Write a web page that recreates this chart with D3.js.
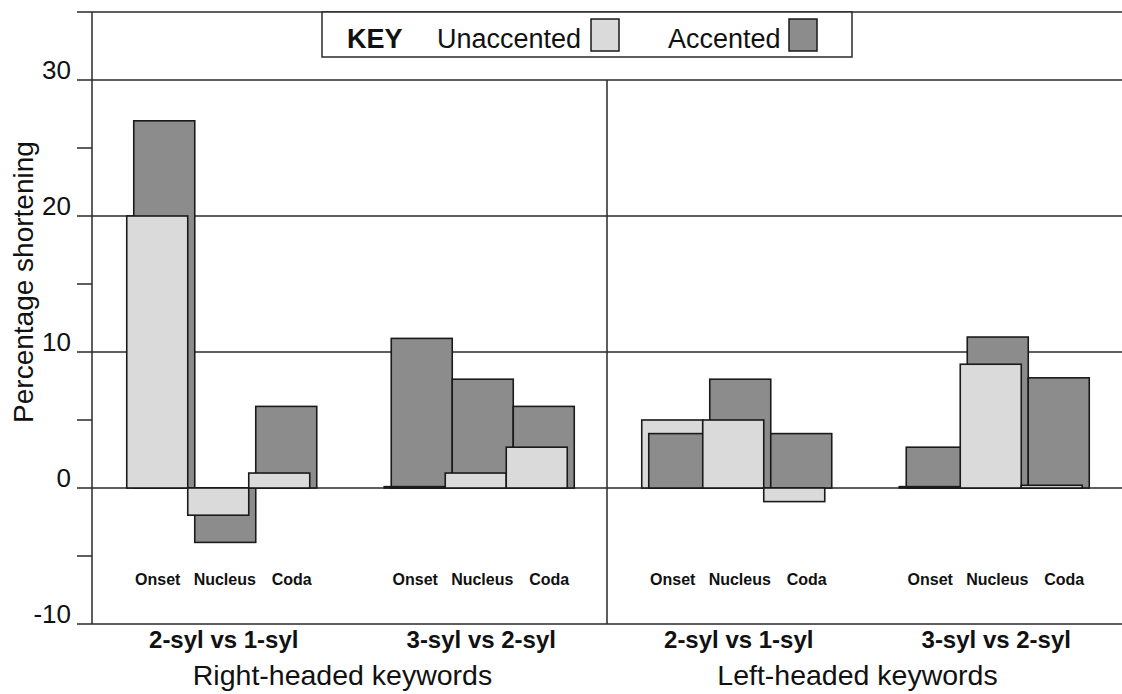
<!DOCTYPE html>
<html>
<head>
<meta charset="utf-8">
<style>
  body { margin: 0; background: #fff; }
  svg { display: block; font-family: "Liberation Sans", Arial, sans-serif; }
</style>
</head>
<body>
<svg id="chart" width="1122" height="694" viewBox="0 0 1122 694" xmlns="http://www.w3.org/2000/svg"></svg>
<script src="https://d3js.org/d3.v7.min.js"></script>
<script>

// comparison groups, left to right (two per panel)
const groups = ["2-syl vs 1-syl", "3-syl vs 2-syl", "2-syl vs 1-syl", "3-syl vs 2-syl"];
const panels = ["Right-headed keywords", "Left-headed keywords"];
const parts = ["Onset", "Nucleus", "Coda"];

// percentage shortening, one row per group, Onset / Nucleus / Coda
const unaccented = [
  [20, -2, 1.1],
  [0.1, 1.1, 3],
  [5, 5, -1],
  [0.1, 9.1, 0.2]
];
const accented = [
  [27, -4, 6],
  [11, 8, 6],
  [4, 8, 4],
  [3, 11.1, 8.1]
];

const majorTicks = [-10, 0, 10, 20, 30];
const minorTicks = [-5, 5, 15, 25];

const width = 1122, height = 694;
const left = 92, right = 1122, tickLeft = 77;
const lightFill = "#dadada", darkFill = "#8c8c8c";
const shift = 7; // accented bar sits a little to the right

const svg = d3.select("#chart");

const y = d3.scaleLinear().domain([-10, 35]).range([624, 12]);
const x0 = d3.scaleBand().domain(d3.range(groups.length)).range([left, right]);
const x1 = d3.scaleBand().domain(parts).range([0, 183]);
const clusterW = x1.range()[1] + shift;
const clusterLeft = g => x0(g) + (x0.bandwidth() - clusterW) / 2 + 1;
// part labels are spread a bit wider than the bars
const xLabel = d3.scalePoint().domain(parts).range([-67, 67]);

// grid lines with ticks poking out to the left
majorTicks.concat([35]).forEach(v => {
  svg.append("line")
    .attr("x1", tickLeft).attr("x2", right)
    .attr("y1", y(v)).attr("y2", y(v))
    .attr("stroke", "#2a2a2a")
    .attr("stroke-width", 1.5);
});
minorTicks.forEach(v => {
  svg.append("line")
    .attr("x1", tickLeft).attr("x2", left)
    .attr("y1", y(v)).attr("y2", y(v))
    .attr("stroke", "#2a2a2a")
    .attr("stroke-width", 1.5);
});

// tick labels
majorTicks.forEach(v => {
  svg.append("text")
    .attr("x", 71)
    .attr("y", y(v) - 1)
    .attr("text-anchor", "end")
    .attr("font-size", "26px")
    .attr("fill", "#111")
    .text(v);
});

// left axis
svg.append("line")
  .attr("x1", left).attr("x2", left)
  .attr("y1", y(35)).attr("y2", y(-10))
  .attr("stroke", "#2a2a2a")
  .attr("stroke-width", 1.5);

// panel divider
const midX = x0(2);
svg.append("line")
  .attr("x1", midX).attr("x2", midX)
  .attr("y1", y(30)).attr("y2", y(-10))
  .attr("stroke", "#2a2a2a")
  .attr("stroke-width", 1.5);

// bars: for each cell the taller bar goes behind the shorter one
const bars = [];
groups.forEach((g, gi) => {
  parts.forEach((p, pi) => {
    const pair = [
      { g: gi, part: p, value: unaccented[gi][pi], dx: 0, fill: lightFill },
      { g: gi, part: p, value: accented[gi][pi], dx: shift, fill: darkFill }
    ];
    pair.sort((a, b) => Math.abs(b.value) - Math.abs(a.value));
    bars.push(...pair);
  });
});

svg.append("g")
  .selectAll("rect")
  .data(bars)
  .join("rect")
  .attr("x", d => clusterLeft(d.g) + x1(d.part) + d.dx)
  .attr("y", d => y(Math.max(0, d.value)))
  .attr("width", x1.bandwidth())
  .attr("height", d => Math.abs(y(d.value) - y(0)))
  .attr("fill", d => d.fill)
  .attr("stroke", "#1a1a1a")
  .attr("stroke-width", 1.6);

// Onset / Nucleus / Coda under every group
groups.forEach((g, gi) => {
  const cx = clusterLeft(gi) + clusterW / 2 + 3;
  parts.forEach(p => {
    svg.append("text")
      .attr("x", cx + xLabel(p))
      .attr("y", 585)
      .attr("text-anchor", "middle")
      .attr("font-size", "16px")
      .attr("font-weight", "bold")
      .attr("fill", "#111")
      .text(p);
  });
  svg.append("text")
    .attr("x", x0(gi) + x0.bandwidth() / 2 + 3)
    .attr("y", 648)
    .attr("text-anchor", "middle")
    .attr("font-size", "24px")
    .attr("font-weight", "bold")
    .attr("fill", "#111")
    .text(g);
});

// panel titles
panels.forEach((t, i) => {
  svg.append("text")
    .attr("x", x0(i * 2) + x0.bandwidth() - 7)
    .attr("y", 685)
    .attr("text-anchor", "middle")
    .attr("font-size", "28.5px")
    .attr("fill", "#111")
    .text(t);
});

// y axis title
svg.append("text")
  .attr("transform", `translate(33, ${282}) rotate(-90)`)
  .attr("text-anchor", "middle")
  .attr("font-size", "28px")
  .attr("fill", "#111")
  .text("Percentage shortening");

// key box
const key = svg.append("g");
key.append("rect")
  .attr("x", 322).attr("y", y(35))
  .attr("width", 530).attr("height", 45)
  .attr("fill", "#fff")
  .attr("stroke", "#2a2a2a")
  .attr("stroke-width", 1.5);
key.append("text")
  .attr("x", 347).attr("y", 48)
  .attr("font-size", "27px")
  .attr("font-weight", "bold")
  .attr("fill", "#111")
  .text("KEY");
key.append("text")
  .attr("x", 437).attr("y", 48)
  .attr("font-size", "27px")
  .attr("fill", "#111")
  .text("Unaccented");
key.append("rect")
  .attr("x", 591).attr("y", 19)
  .attr("width", 28).attr("height", 32)
  .attr("fill", lightFill)
  .attr("stroke", "#1a1a1a")
  .attr("stroke-width", 1.5);
key.append("text")
  .attr("x", 668).attr("y", 48)
  .attr("font-size", "27px")
  .attr("fill", "#111")
  .text("Accented");
key.append("rect")
  .attr("x", 789).attr("y", 19)
  .attr("width", 28).attr("height", 32)
  .attr("fill", darkFill)
  .attr("stroke", "#1a1a1a")
  .attr("stroke-width", 1.5);
</script>
</body>
</html>
